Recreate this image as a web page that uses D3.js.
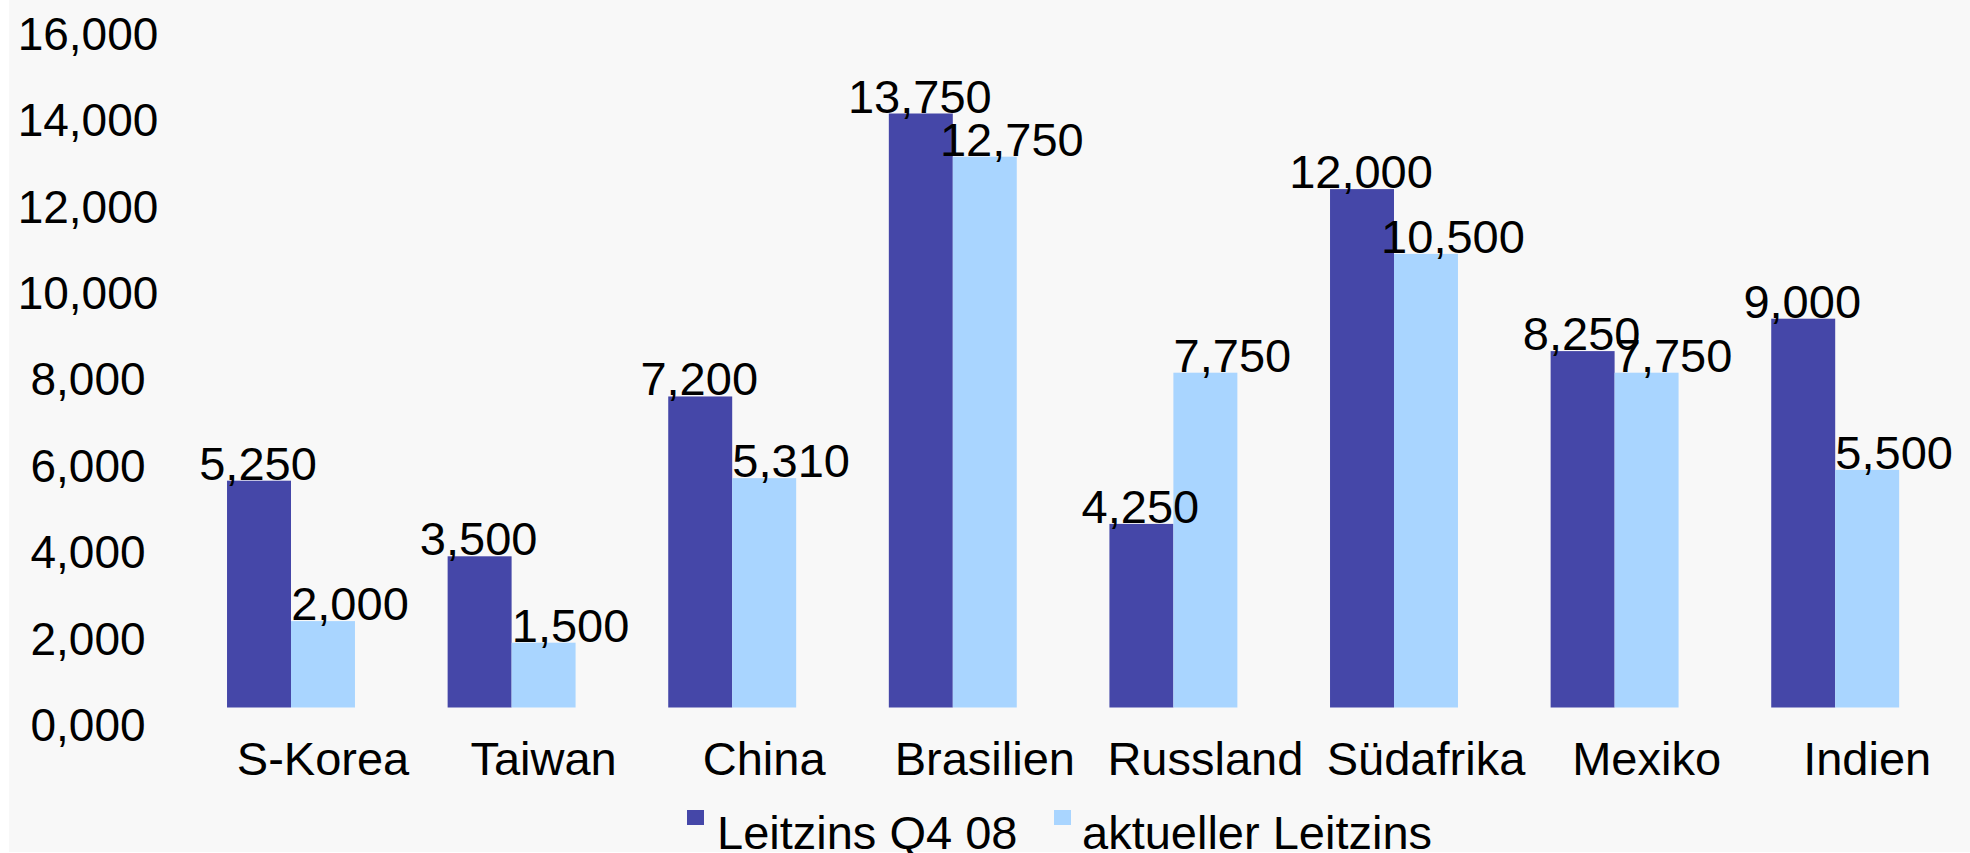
<!DOCTYPE html>
<html>
<head>
<meta charset="utf-8">
<script src="https://cdn.jsdelivr.net/npm/d3@7"></script>
<style>
  html, body { margin: 0; padding: 0; background: #ffffff; }
  svg { display: block; }
  text { font-family: "Liberation Sans", Arial, sans-serif; fill: #000; }
</style>
</head>
<body>
<svg id="chart" width="1970" height="853"></svg>
<script>
const categories = ["S-Korea", "Taiwan", "China", "Brasilien", "Russland", "Südafrika", "Mexiko", "Indien"];
const seriesNames = ["Leitzins Q4 08", "aktueller Leitzins"];
const leitzinsQ408 = [5.25, 3.5, 7.2, 13.75, 4.25, 12.0, 8.25, 9.0];
const aktuellerLeitzins = [2.0, 1.5, 5.31, 12.75, 7.75, 10.5, 7.75, 5.5];
const yTicks = [0, 2, 4, 6, 8, 10, 12, 14, 16];
const colors = ["#4547A8", "#A9D5FF"];

const seriesValues = [leitzinsQ408, aktuellerLeitzins];
const rows = categories.map((c, i) => ({ cat: c, vals: seriesNames.map((s, j) => ({ s, j, v: seriesValues[j][i] })) }));

const fmt = v => d3.format(",.3f")(v); // e.g. 5.250 -> "5.250"; displayed with comma as in source
const label = v => fmt(v).replace(".", ",");

const svg = d3.select("#chart");

// background panel
svg.append("rect").attr("x", 9).attr("y", 0).attr("width", 1961).attr("height", 852).attr("fill", "#F8F8F8");

const y = d3.scaleLinear().domain([0, 16]).range([707.5, 16.3]);
const x0 = d3.scaleBand().domain(categories).range([180.7, 1945.5]).paddingInner(0.42).paddingOuter(0.21);
const x1 = d3.scaleBand().domain(seriesNames).range([0, x0.bandwidth()]);
const color = d3.scaleOrdinal().domain(seriesNames).range(colors);

// y axis labels (no line, no ticks)
const yAxis = d3.axisLeft(y).tickValues(yTicks).tickSize(0).tickFormat(label);
const yg = svg.append("g").attr("transform", "translate(0,0)").call(yAxis);
yg.select(".domain").remove();
yg.selectAll("text")
  .attr("x", 88)
  .attr("dy", 0)
  .attr("y", 33)
  .attr("text-anchor", "middle")
  .style("font-size", "46px")
  .style("font-family", "'Liberation Sans', Arial, sans-serif")
  .attr("fill", "#000");

// x axis labels
const xAxis = d3.axisBottom(x0).tickSize(0);
const xg = svg.append("g").attr("transform", `translate(32,${y(0)})`).call(xAxis);
xg.select(".domain").remove();
xg.selectAll("text")
  .attr("y", 67.5)
  .attr("dy", 0)
  .style("font-size", "47px")
  .style("font-family", "'Liberation Sans', Arial, sans-serif")
  .attr("fill", "#000");

// bars
const groups = svg.append("g").selectAll("g").data(rows).join("g")
  .attr("transform", d => `translate(${x0(d.cat)},0)`);

groups.selectAll("rect").data(d => d.vals).join("rect")
  .attr("x", d => x1(d.s))
  .attr("y", d => y(d.v))
  .attr("width", x1.bandwidth())
  .attr("height", d => y(0) - y(d.v))
  .attr("fill", d => color(d.s));

// value labels
groups.selectAll("text.val").data(d => d.vals).join("text")
  .attr("class", "val")
  .attr("x", d => x1(d.s) + x1.bandwidth() / 2 + (d.j === 1 ? 27 : -1))
  .attr("y", d => y(d.v) - 1)
  .attr("text-anchor", "middle")
  .style("font-size", "47px")
  .text(d => label(d.v));

// legend
const legendItems = [
  { s: seriesNames[0], sx: 687, tx: 717 },
  { s: seriesNames[1], sx: 1054, tx: 1082 }
];
const lg = svg.append("g");
lg.selectAll("rect").data(legendItems).join("rect")
  .attr("x", d => d.sx).attr("y", 810).attr("width", 17).attr("height", 15)
  .attr("fill", d => color(d.s));
lg.selectAll("text").data(legendItems).join("text")
  .attr("x", d => d.tx).attr("y", 849)
  .style("font-size", "47px")
  .text(d => d.s);
</script>
</body>
</html>
